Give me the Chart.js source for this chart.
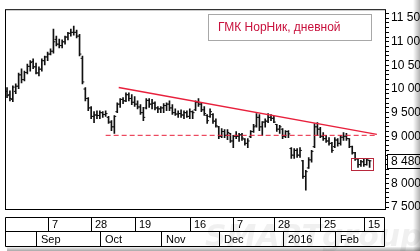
<!DOCTYPE html>
<html>
<head>
<meta charset="utf-8">
<script src="https://cdn.jsdelivr.net/npm/chart.js@4.4.1/dist/chart.umd.min.js"></script>
<style>
html, body { margin: 0; padding: 0; background: #fff; overflow: hidden; }
canvas { display: block; }
</style>
</head>
<body>
<canvas id="grafico" width="420" height="251"></canvas>
<script>
// OHLC giornaliero (indice = giorno di borsa)
var openP = [
  9950, 9880, 9780, 9950, 10060, 10300, 10200, 10350, 10480, 10580,
  10470, 10340, 10420, 10600, 10680, 10740, 10800, 11050, 10950, 10920,
  11000, 11100, 11180, 11200, 11200, 11120, 10650, 10000, 9800, 9600,
  9420, 9450, 9440, 9500, 9460, 9400, 9300, 9200, 9520, 9680,
  9780, 9750, 9880, 9800, 9720, 9680, 9620, 9500, 9600, 9760,
  9680, 9700, 9600, 9580, 9600, 9650, 9680, 9600, 9500, 9470,
  9480, 9450, 9500, 9420, 9520, 9560, 9720, 9680, 9560, 9440,
  9420, 9460, 9320, 9200, 9000, 9100, 9020, 9060, 8900, 9000,
  9000, 9030, 8940, 8850, 8990, 9100, 9220, 9400, 9200, 9300,
  9320, 9400, 9380, 9250, 9150, 9150, 9000, 9100, 8740, 8600,
  8700, 8600, 8480, 8150, 8330, 8500, 8780, 9200, 9150, 9000,
  8950, 8900, 8850, 8780, 8920, 8850, 8980, 9000, 8950, 8780,
  8650, 8520, 8400, 8460, 8400, 8490
];
var highP = [
  10030, 9960, 10070, 10110, 10340, 10430, 10380, 10530, 10600, 10640,
  10550, 10470, 10640, 10700, 10780, 10850, 11270, 11120, 11060, 11040,
  11120, 11200, 11270, 11330, 11250, 11160, 10700, 10030, 9820, 9630,
  9520, 9540, 9540, 9520, 9540, 9420, 9330, 9440, 9710, 9800,
  9820, 9920, 9920, 9880, 9840, 9750, 9670, 9610, 9800, 9800,
  9780, 9730, 9630, 9630, 9690, 9710, 9750, 9670, 9580, 9540,
  9560, 9540, 9540, 9580, 9540, 9750, 9800, 9710, 9630, 9460,
  9580, 9480, 9370, 9210, 9160, 9140, 9140, 9060, 9020, 9100,
  9060, 9060, 8950, 8950, 9120, 9250, 9480, 9460, 9310, 9370,
  9480, 9460, 9420, 9250, 9230, 9160, 9120, 9120, 8760, 8740,
  8740, 8760, 8490, 8280, 8550, 8700, 9270, 9290, 9190, 9080,
  9020, 8970, 8870, 8970, 8950, 9020, 9080, 9060, 8950, 8790,
  8660, 8530, 8490, 8510, 8530, 8490
];
var lowP = [
  9815, 9750, 9730, 9900, 10010, 10130, 10170, 10320, 10380, 10430,
  10320, 10280, 10380, 10510, 10600, 10720, 10760, 10910, 10870, 10870,
  10950, 11040, 11120, 11140, 11080, 10700, 10110, 9750, 9540, 9370,
  9290, 9370, 9370, 9400, 9420, 9270, 9120, 9060, 9500, 9610,
  9690, 9730, 9750, 9670, 9630, 9580, 9460, 9330, 9580, 9610,
  9580, 9560, 9500, 9500, 9500, 9540, 9540, 9460, 9440, 9400,
  9400, 9370, 9400, 9370, 9370, 9540, 9630, 9520, 9440, 9270,
  9400, 9270, 9190, 8950, 8970, 8970, 8930, 8870, 8760, 8950,
  8890, 8910, 8810, 8760, 8970, 9080, 9190, 9120, 9020, 9190,
  9290, 9330, 9290, 9100, 9060, 8950, 8970, 8970, 8530, 8530,
  8550, 8550, 8110, 7860, 8320, 8450, 8760, 9020, 8970, 8910,
  8870, 8810, 8660, 8760, 8790, 8810, 8910, 8910, 8760, 8620,
  8490, 8340, 8360, 8360, 8390, 8340
];
var closeP = [
  9860, 9800, 10040, 10060, 10300, 10200, 10350, 10480, 10560, 10470,
  10340, 10420, 10600, 10680, 10740, 10800, 11000, 10950, 10920, 11000,
  11100, 11180, 11200, 11200, 11120, 10740, 10150, 9800, 9600, 9420,
  9450, 9440, 9500, 9460, 9480, 9300, 9200, 9420, 9680, 9780,
  9750, 9880, 9800, 9720, 9680, 9620, 9500, 9400, 9760, 9680,
  9700, 9600, 9580, 9600, 9650, 9680, 9600, 9500, 9470, 9480,
  9450, 9500, 9420, 9520, 9500, 9720, 9680, 9560, 9480, 9330,
  9520, 9320, 9220, 9000, 9100, 9020, 9080, 8900, 9000, 9000,
  9030, 8960, 8850, 8900, 9100, 9200, 9400, 9200, 9300, 9320,
  9400, 9380, 9300, 9150, 9200, 9000, 9100, 9050, 8600, 8700,
  8600, 8700, 8150, 8250, 8500, 8680, 9200, 9150, 9000, 8950,
  8900, 8850, 8700, 8920, 8850, 8980, 9000, 8950, 8780, 8650,
  8520, 8400, 8460, 8400, 8500, 8480
];

// etichette asse tempo
var dayLabels = ['7', '28', '19', '16', '7', '28', '25', '15'];
var dayIdx = [14, 29, 44, 63, 78, 92, 108, 123];
var monthLabels = ['Sep', 'Oct', 'Nov', 'Dec', '2016', 'Feb'];
var monthIdx = [10, 32, 53, 73, 95, 113];

// asse prezzi
var yMajor = [7500, 8000, 8500, 9000, 9500, 10000, 10500, 11000, 11500];
var yLabels = ['7 500', '8 000', '8 500', '9 000', '9 500', '10 000', '10 500', '11 000', '11 500'];
var yMinorStep = 100;

// linee disegnate
var trendIdx = [38.5, 127.5];
var trendVal = [10030, 9040];
var supportIdx = [34, 127];
var supportVal = [9020, 9020];
var lastPrice = 8480;
var lastLabel = '8 480';
var boxIdx = [120, 125];
var boxVal = [8280, 8550];
var titolo = 'ГМК НорНик, дневной';

var yTickValues = [];
for (var v = yMajor[0]; v <= 11600; v += yMinorStep) yTickValues.push(v);

var barre = highP.map(function (h, i) { return { x: i, y: [lowP[i], h] }; });
var aperture = openP.map(function (o, i) { return { x: i - 0.3, y: o }; });
var chiusure = closeP.map(function (c, i) { return { x: i + 0.3, y: c }; });

var decorazioni = {
  id: 'decorazioni',
  beforeDraw: function (chart) {
    var ctx = chart.ctx;
    ctx.save();
    ctx.fillStyle = '#fff';
    ctx.fillRect(0, 0, chart.width, chart.height);
    ctx.restore();
  },
  afterDatasetsDraw: function (chart) {
    var ctx = chart.ctx, a = chart.chartArea;
    var xs = chart.scales.x, ys = chart.scales.y;
    ctx.save();
    // riquadro ultime barre
    var bx1 = Math.round(xs.getPixelForValue(boxIdx[0])) - 3.5;
    var bx2 = Math.round(xs.getPixelForValue(boxIdx[1])) + 3.5;
    var by1 = Math.round(ys.getPixelForValue(boxVal[1])) + 0.5;
    var by2 = Math.round(ys.getPixelForValue(boxVal[0])) + 0.5;
    ctx.strokeStyle = '#b8283c';
    ctx.lineWidth = 1;
    ctx.strokeRect(bx1, by1, bx2 - bx1, by2 - by1);
    // legenda
    ctx.strokeStyle = '#a8a8a8';
    ctx.strokeRect(208.5, 14.5, 163, 26);
    ctx.fillStyle = '#fff';
    ctx.fillRect(209, 15, 162, 25);
    ctx.fillStyle = '#c8103c';
    ctx.font = '12px "Liberation Sans"';
    ctx.textBaseline = 'middle';
    ctx.fillText(titolo, 218, 27.5);
    // bordo area grafico
    ctx.strokeStyle = '#000';
    ctx.strokeRect(a.left + 0.5, a.top + 0.5, a.right - a.left, a.bottom - a.top);
    ctx.restore();
  },
  afterDraw: function (chart) {
    var ctx = chart.ctx, a = chart.chartArea;
    var xs = chart.scales.x, ys = chart.scales.y;
    ctx.save();
    // filigrana
    ctx.fillStyle = 'rgba(0,0,0,0.06)';
    ctx.font = 'italic bold 30px "DejaVu Sans"';
    ctx.textBaseline = 'alphabetic';
    ctx.fillText('SMARTgroup', 205, 246);

    // righe date
    var r0 = 217.5, r1 = 231.5, r2 = 246.5;
    var xl = a.left + 0.5, xr = a.right - 0.5;
    ctx.strokeStyle = '#000';
    ctx.lineWidth = 1;
    ctx.beginPath();
    ctx.moveTo(xl, r0); ctx.lineTo(xr, r0);
    ctx.moveTo(xl, r1); ctx.lineTo(xr, r1);
    ctx.moveTo(xl, r2); ctx.lineTo(xr, r2);
    ctx.moveTo(xl, r0); ctx.lineTo(xl, r2);
    ctx.moveTo(xr, r0); ctx.lineTo(xr, r2);
    dayIdx.forEach(function (d) {
      var px = Math.round(xs.getPixelForValue(d)) + 0.5;
      ctx.moveTo(px, r0); ctx.lineTo(px, r1);
    });
    monthIdx.forEach(function (m) {
      var px = Math.round(xs.getPixelForValue(m)) + 0.5;
      ctx.moveTo(px, r1); ctx.lineTo(px, r2);
    });
    ctx.stroke();
    ctx.fillStyle = '#000';
    ctx.font = '11px "Liberation Sans"';
    ctx.textBaseline = 'middle';
    dayIdx.forEach(function (d, k) {
      ctx.fillText(dayLabels[k], Math.round(xs.getPixelForValue(d)) + 4, 225);
    });
    monthIdx.forEach(function (m, k) {
      ctx.fillText(monthLabels[k], Math.round(xs.getPixelForValue(m)) + 5, 239.5);
    });

    // ultimo prezzo
    var py = Math.round(ys.getPixelForValue(lastPrice));
    ctx.fillStyle = '#fff';
    ctx.fillRect(387, py - 7, 40, 14);
    ctx.strokeStyle = '#000';
    ctx.strokeRect(387.5, py - 6.5, 40, 14);
    ctx.fillStyle = '#000';
    ctx.font = '12px "Liberation Sans"';
    ctx.fillText(lastLabel, 391, py + 0.5);

    // ombra finestra
    var gb = ctx.createLinearGradient(0, 247, 0, 251);
    gb.addColorStop(0, 'rgba(0,0,0,0.05)');
    gb.addColorStop(1, 'rgba(0,0,0,0.35)');
    ctx.fillStyle = gb;
    ctx.fillRect(7, 247, chart.width - 7, 4);
    var gr = ctx.createLinearGradient(413, 0, 420, 0);
    gr.addColorStop(0, 'rgba(0,0,0,0)');
    gr.addColorStop(1, 'rgba(0,0,0,0.3)');
    ctx.fillStyle = gr;
    ctx.fillRect(413, 0, 7, chart.height);
    ctx.restore();
  }
};

var chart = new Chart(document.getElementById('grafico'), {
  type: 'bar',
  data: {
    datasets: [{
      type: 'line',
      data: [{ x: trendIdx[0], y: trendVal[0] }, { x: trendIdx[1], y: trendVal[1] }],
      borderColor: '#e8203c',
      borderWidth: 1.5,
      pointRadius: 0,
      order: 0
    }, {
      type: 'line',
      data: [{ x: supportIdx[0], y: supportVal[0] }, { x: supportIdx[1], y: supportVal[1] }],
      borderColor: '#e8203c',
      borderWidth: 1,
      borderDash: [5, 3],
      pointRadius: 0,
      order: 0
    }, {
      type: 'bar',
      data: barre,
      backgroundColor: '#111',
      borderWidth: 0,
      barThickness: 1,
      grouped: false,
      order: 2
    }, {
      type: 'scatter',
      data: aperture,
      pointStyle: 'line',
      pointRadius: 1,
      pointBorderWidth: 1,
      pointBorderColor: '#111',
      order: 1
    }, {
      type: 'scatter',
      data: chiusure,
      pointStyle: 'line',
      pointRadius: 1,
      pointBorderWidth: 1,
      pointBorderColor: '#111',
      order: 1
    }]
  },
  options: {
    responsive: false,
    animation: false,
    devicePixelRatio: 1,
    layout: { padding: { left: 5, top: 8, right: 0, bottom: 42 } },
    plugins: { legend: { display: false }, tooltip: { enabled: false } },
    scales: {
      x: {
        type: 'linear',
        display: false,
        offset: false,
        min: -0.7,
        max: 130.3
      },
      y: {
        position: 'right',
        min: 7460,
        max: 11690,
        afterBuildTicks: function (scale) {
          scale.ticks = yTickValues.map(function (t) { return { value: t }; });
        },
        afterFit: function (scale) { scale.width = 35; },
        border: { display: false },
        grid: { drawOnChartArea: false, drawTicks: true, tickLength: 4, tickColor: '#000', lineWidth: 1 },
        ticks: {
          autoSkip: false,
          padding: 2,
          color: '#000',
          font: { family: 'Liberation Sans', size: 12 },
          callback: function (val) {
            var k = yMajor.indexOf(val);
            return k >= 0 ? yLabels[k] : '';
          }
        }
      }
    }
  },
  plugins: [decorazioni]
});
</script>
</body>
</html>
